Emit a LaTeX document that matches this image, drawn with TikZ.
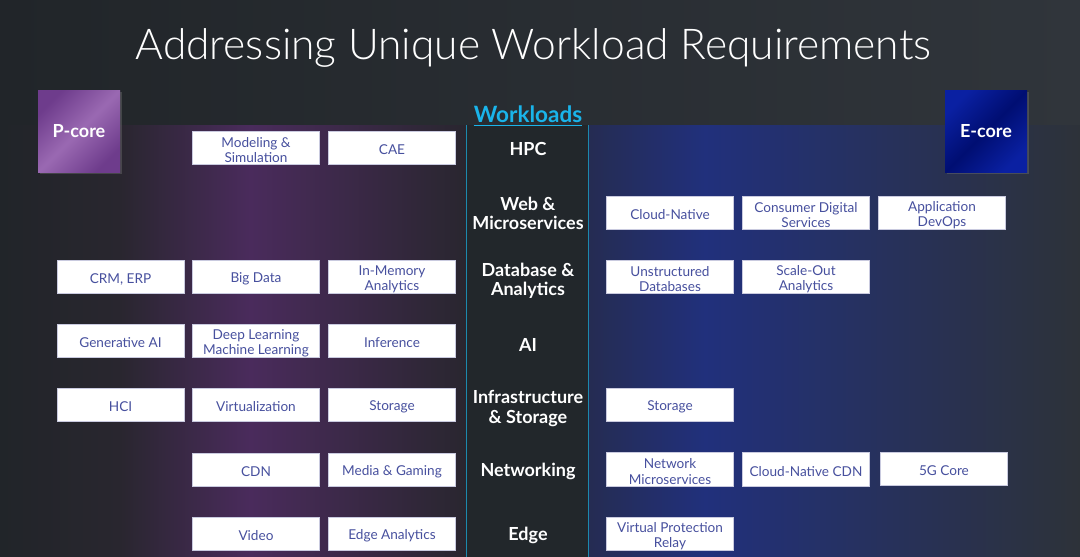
\documentclass[tikz,border=0pt]{standalone}
\usepackage{fontspec}
\setmainfont{Lato}
\newfontfamily\titlefont{Lato Light}
\usetikzlibrary{shadows}
\definecolor{bgL}{HTML}{212529}
\definecolor{bgR}{HTML}{30353B}
\definecolor{purpPeak}{HTML}{4A2B5C}
\definecolor{purpEdge}{HTML}{29262F}
\definecolor{bluePeak}{HTML}{21307C}
\definecolor{blueL}{HTML}{252C52}
\definecolor{blueR}{HTML}{2D3239}
\definecolor{boxtext}{HTML}{47509E}
\definecolor{boxline}{HTML}{C9CADF}
\definecolor{cyanW}{HTML}{1AB4EA}
\definecolor{colline}{HTML}{1C89AE}
\definecolor{pA}{HTML}{6E3C8C}
\definecolor{pB}{HTML}{9A69B2}
\definecolor{eA}{HTML}{0A20A2}
\definecolor{eB}{HTML}{000E72}
\tikzset{
  wbox/.style={draw=boxline, line width=0.8pt, fill=white, minimum width=127pt, minimum height=33.5pt,
    inner sep=0pt},
  wtext/.style={align=center, text=boxtext, inner sep=0pt, yshift=-2pt, font=\fontsize{13.6}{15.4}\selectfont},
  wlabel/.style={text=white, align=center, font=\bfseries\fontsize{18}{19.5}\selectfont},
  corelabel/.style={text=white, font=\bfseries\fontsize{18}{20}\selectfont},
  coresq/.style={minimum size=82pt, inner sep=0pt, drop shadow={opacity=0.35, shadow xshift=2pt, shadow yshift=-2pt}},
}
\begin{document}
\begin{tikzpicture}[x=1pt,y=-1pt]
\useasboundingbox (0,0) rectangle (1080,557);
% background
\shade[left color=bgL, right color=bgR] (0,0) rectangle (1080,557);
% purple band
\shade[left color=bgL, right color=purpEdge] (0,125) rectangle (120,557);
\shade[left color=purpEdge, right color=purpPeak] (120,125) rectangle (250,557);
\shade[left color=purpPeak, right color=purpEdge] (250,125) rectangle (466,557);
% blue band
\shade[left color=blueL, right color=bluePeak] (588,125) rectangle (705,557);
\shade[left color=bluePeak, right color=blueR] (705,125) rectangle (1080,557);
% central column
\fill[bgL!90!bgR] (466,125) rectangle (588,557);
\coordinate (lt) at (466,125); \coordinate (lb) at (466,557);
\coordinate (rt) at (588,125); \coordinate (rb) at (588,557);
\draw[colline, line width=1pt] (lt) -- (lb);
\draw[colline, line width=1pt] (rt) -- (rb);
% title
\node[text=white, font=\titlefont\fontsize{42.5}{48}\selectfont] (title) at (533.5,48) {Addressing Unique Workload Requirements};
% Workloads heading
\node[text=cyanW, font=\bfseries\fontsize{22.5}{24}\selectfont, inner sep=0pt] (wl) at (528,114) {Workloads};
\draw[cyanW, line width=1.3pt] ([yshift=-3pt]wl.south west) -- ([yshift=-3pt]wl.south east);
% core boxes
\node[coresq, top color=pA, bottom color=pA, middle color=pB, shading angle=45] (pcore) at (79,131) {};
\node[corelabel] (pcoret) at (pcore.center) {P-core};
\node[coresq, top color=eA, bottom color=eA, middle color=eB, shading angle=45] (ecore) at (986,131) {};
\node[corelabel] (ecoret) at (ecore.center) {E-core};
% center labels
\node[wlabel] (hpc) at (528,149) {HPC};
\node[wlabel] (web) at (528,213.5) {Web \&\\Microservices};
\node[wlabel] (db) at (528,281) {Database \&\\Analytics};
\node[wlabel] (ai) at (528,345) {AI};
\node[wlabel] (infra) at (528,408.5) {Infrastructure\\\& Storage};
\node[wlabel] (net) at (528,471) {Networking};
\node[wlabel] (edge) at (528,535) {Edge};
% left boxes
\node[wbox] (model) at (256,148) {}; \node[wtext] (modelt) at (model.center) {Modeling \&\\Simulation};
\node[wbox] (cae) at (392,148) {}; \node[wtext] (caet) at (cae.center) {CAE};
\node[wbox] (crm) at (120.5,277) {}; \node[wtext] (crmt) at (crm.center) {CRM, ERP};
\node[wbox] (bigd) at (256,277) {}; \node[wtext] (bigdt) at (bigd.center) {Big Data};
\node[wbox] (inmem) at (392,277) {}; \node[wtext] (inmemt) at (inmem.center) {In-Memory\\Analytics};
\node[wbox] (genai) at (120.5,341) {}; \node[wtext] (genait) at (genai.center) {Generative AI};
\node[wbox] (deep) at (256,341) {}; \node[wtext] (deept) at (deep.center) {Deep Learning\\Machine Learning};
\node[wbox] (infer) at (392,341) {}; \node[wtext] (infert) at (infer.center) {Inference};
\node[wbox] (hci) at (120.5,405) {}; \node[wtext] (hcit) at (hci.center) {HCI};
\node[wbox] (virt) at (256,405) {}; \node[wtext] (virtt) at (virt.center) {Virtualization};
\node[wbox] (stor1) at (392,405) {}; \node[wtext] (stor1t) at (stor1.center) {Storage};
\node[wbox] (cdn) at (256,470) {}; \node[wtext] (cdnt) at (cdn.center) {CDN};
\node[wbox] (media) at (392,470) {}; \node[wtext] (mediat) at (media.center) {Media \& Gaming};
\node[wbox] (video) at (256,534) {}; \node[wtext] (videot) at (video.center) {Video};
\node[wbox] (edgea) at (392,534) {}; \node[wtext] (edgeat) at (edgea.center) {Edge Analytics};
% right boxes
\node[wbox] (cloud) at (670,213) {}; \node[wtext] (cloudt) at (cloud.center) {Cloud-Native};
\node[wbox] (cons) at (806,213) {}; \node[wtext] (const) at (cons.center) {Consumer Digital\\Services};
\node[wbox] (app) at (942,213) {}; \node[wtext] (appt) at (app.center) {Application\\DevOps};
\node[wbox] (unstr) at (670,277) {}; \node[wtext] (unstrt) at (unstr.center) {Unstructured\\Databases};
\node[wbox] (scale) at (806,277) {}; \node[wtext] (scalet) at (scale.center) {Scale-Out\\Analytics};
\node[wbox] (stor2) at (670,405) {}; \node[wtext] (stor2t) at (stor2.center) {Storage};
\node[wbox] (netm) at (670,469.5) {}; \node[wtext] (netmt) at (netm.center) {Network\\Microservices};
\node[wbox] (ccdn) at (806,469.5) {}; \node[wtext] (ccdnt) at (ccdn.center) {Cloud-Native CDN};
\node[wbox] (fiveg) at (944,469) {}; \node[wtext] (fivegt) at (fiveg.center) {5G Core};
\node[wbox] (vpr) at (670,534) {}; \node[wtext] (vprt) at (vpr.center) {Virtual Protection\\Relay};
\end{tikzpicture}
\end{document}
